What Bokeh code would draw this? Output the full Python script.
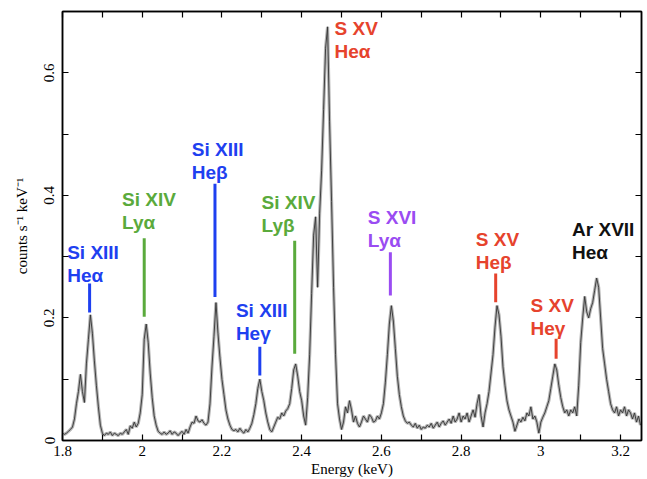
from bokeh.plotting import figure
from bokeh.models import Range1d, FixedTicker, LinearAxis, CustomJSTickFormatter
from bokeh.core.properties import value
from bokeh.embed import file_html
from bokeh.resources import INLINE

# ---------------- data ----------------
energy_start = 1.800   # keV, first bin
energy_step = 0.005    # keV, bin width

counts = [
    # 1.800 - 2.000
    0.012, 0.010, 0.012, 0.015, 0.018, 0.022, 0.035, 0.060, 0.080, 0.108,
    0.080, 0.062, 0.125, 0.165, 0.205, 0.175, 0.130, 0.090, 0.055, 0.025,
    0.012, 0.008, 0.012, 0.010, 0.014, 0.008, 0.012, 0.010, 0.008, 0.012,
    0.010, 0.014, 0.018, 0.010, 0.024, 0.020, 0.030, 0.022, 0.028, 0.045,
    0.075,
    # 2.005 - 2.200
    0.165, 0.190, 0.160, 0.110, 0.070, 0.040, 0.025, 0.015, 0.012, 0.010,
    0.014, 0.010, 0.012, 0.016, 0.010, 0.014, 0.012, 0.008, 0.012, 0.015,
    0.010, 0.018, 0.012, 0.022, 0.030, 0.028, 0.040, 0.032, 0.030, 0.034,
    0.028, 0.025, 0.030, 0.060, 0.120, 0.170, 0.225, 0.175, 0.135, 0.100,
    # 2.205 - 2.400
    0.075, 0.050, 0.035, 0.025, 0.018, 0.016, 0.018, 0.014, 0.020, 0.015,
    0.012, 0.018, 0.014, 0.020, 0.028, 0.042, 0.060, 0.085, 0.100, 0.080,
    0.065, 0.045, 0.030, 0.018, 0.014, 0.022, 0.030, 0.038, 0.035, 0.045,
    0.040, 0.048, 0.052, 0.060, 0.085, 0.115, 0.125, 0.105, 0.080, 0.065,
    # 2.405 - 2.500
    0.040, 0.025, 0.070, 0.140, 0.240, 0.335, 0.365, 0.250, 0.370, 0.440,
    0.540, 0.640, 0.675, 0.520, 0.390, 0.250, 0.140, 0.060, 0.035, 0.018,
    # 2.505 - 2.700
    0.030, 0.055, 0.045, 0.065, 0.050, 0.030, 0.040, 0.028, 0.022, 0.030,
    0.040, 0.035, 0.030, 0.042, 0.038, 0.030, 0.032, 0.040, 0.035, 0.045,
    0.060, 0.095, 0.140, 0.190, 0.220, 0.195, 0.150, 0.105, 0.075, 0.055,
    0.040, 0.032, 0.028, 0.030, 0.025, 0.022, 0.028, 0.020, 0.025, 0.018,
    # 2.705 - 2.900
    0.022, 0.020, 0.025, 0.022, 0.028, 0.020, 0.025, 0.030, 0.022, 0.028,
    0.032, 0.025, 0.030, 0.035, 0.028, 0.040, 0.030, 0.035, 0.045, 0.030,
    0.040, 0.035, 0.045, 0.030, 0.040, 0.050, 0.038, 0.060, 0.075, 0.040,
    0.022, 0.045, 0.060, 0.080, 0.110, 0.140, 0.185, 0.220, 0.205, 0.170,
    # 2.905 - 3.075
    0.120, 0.090, 0.065, 0.050, 0.040, 0.030, 0.015, 0.025, 0.035, 0.030,
    0.038, 0.032, 0.045, 0.040, 0.055, 0.035, 0.040, 0.030, 0.012, 0.030,
    0.038, 0.045, 0.055, 0.065, 0.085, 0.105, 0.125, 0.115, 0.090, 0.070,
    0.055, 0.045, 0.050, 0.040, 0.050,
    # 3.080 - 3.250
    0.045, 0.055, 0.040, 0.090, 0.160, 0.200, 0.235, 0.210, 0.200, 0.215,
    0.225, 0.245, 0.265, 0.250, 0.200, 0.150, 0.125, 0.100, 0.080, 0.060,
    0.050, 0.045, 0.055, 0.040, 0.050, 0.045, 0.055, 0.040, 0.050, 0.045,
    0.035, 0.045, 0.030, 0.040, 0.025,
]
energy = [round(energy_start + i * energy_step, 3) for i in range(len(counts))]

# line-identification markers
marker_energy = [1.868, 2.005, 2.1825, 2.3825, 2.295, 2.6225, 2.8867, 3.0383]
marker_bottom = [0.209, 0.202, 0.234, 0.1415, 0.106, 0.2366, 0.2256, 0.1333]
marker_top = [0.256, 0.330, 0.419, 0.326, 0.153, 0.307, 0.2725, 0.166]
marker_color = ["#1e40f0", "#5aaa3c", "#1e40f0", "#5aaa3c", "#1e40f0",
                "#9a4cf2", "#e6432d", "#e6432d"]

# labels (ion, transition)
label_ion = ["Si XIII", "Si XIV", "Si XIII", "Si XIV", "Si XIII",
             "S XV", "S XVI", "S XV", "S XV", "Ar XVII"]
label_trans = ["Heα", "Lyα", "Heβ", "Lyβ", "Heγ",
               "Heα", "Lyα", "Heβ", "Heγ", "Heα"]
label_x = [1.8117, 1.9492, 2.1242, 2.2992, 2.235,
           2.4825, 2.5658, 2.8367, 2.9742, 3.0783]
label_y1 = [0.307, 0.394, 0.475, 0.388, 0.212,
            0.673, 0.364, 0.328, 0.220, 0.345]
label_y2 = [0.269, 0.356, 0.437, 0.351, 0.174,
            0.635, 0.326, 0.290, 0.182, 0.307]
label_color = ["#1e40f0", "#5aaa3c", "#1e40f0", "#5aaa3c", "#1e40f0",
               "#e6432d", "#9a4cf2", "#e6432d", "#e6432d", "#111111"]

x_major = [1.8, 2.0, 2.2, 2.4, 2.6, 2.8, 3.0, 3.2]
x_minor = [1.9, 2.1, 2.3, 2.5, 2.7, 2.9, 3.1]
y_major = [0.0, 0.2, 0.4, 0.6]
y_minor = [0.1, 0.3, 0.5]

# ---------------- figure ----------------
p = figure(width=647, height=479, output_backend="svg", toolbar_location=None,
           x_range=Range1d(1.8, 3.2525), y_range=Range1d(0, 0.70),
           min_border_left=62, min_border_right=6, min_border_top=11,
           min_border_bottom=39)
p.grid.visible = False
p.outline_line_color = "black"
p.outline_line_width = 1.5
p.background_fill_color = "white"
p.border_fill_color = "white"

fmt_code = "return String(Math.round(tick*10)/10)"


def style_axis(ax, labels=True):
    ax.axis_line_color = "black"
    ax.axis_line_width = 1.5
    ax.major_tick_in = 6
    ax.major_tick_out = 0
    ax.minor_tick_in = 6
    ax.minor_tick_out = 0
    ax.major_tick_line_color = "black"
    ax.minor_tick_line_color = "black"
    ax.major_tick_line_width = 1.2
    ax.minor_tick_line_width = 1.2
    ax.major_label_text_font = "Liberation Serif"
    ax.major_label_text_font_size = "15px"
    ax.major_label_text_color = "black"
    ax.axis_label_text_font = "Liberation Serif"
    ax.axis_label_text_font_size = "15px"
    ax.axis_label_text_font_style = "normal"
    ax.axis_label_text_color = "black"
    if not labels:
        ax.formatter = CustomJSTickFormatter(code="return ''")
        ax.major_label_text_font_size = "1px"
        ax.major_label_standoff = 0


xa = p.xaxis[0]
xa.ticker = FixedTicker(ticks=x_major, minor_ticks=x_minor)
xa.formatter = CustomJSTickFormatter(code=fmt_code)
xa.axis_label = "Energy (keV)"
style_axis(xa)
xa.major_label_standoff = 5
xa.axis_label_standoff = 2

ya = p.yaxis[0]
ya.ticker = FixedTicker(ticks=y_major, minor_ticks=y_minor)
ya.formatter = CustomJSTickFormatter(code=fmt_code)
ya.axis_label = "counts s⁻¹ keV⁻¹"
ya.major_label_orientation = "vertical"
style_axis(ya)
ya.major_label_standoff = 8
ya.axis_label_standoff = 12

top_ax = LinearAxis(ticker=FixedTicker(ticks=x_major, minor_ticks=x_minor))
style_axis(top_ax, labels=False)
p.add_layout(top_ax, "above")
right_ax = LinearAxis(ticker=FixedTicker(ticks=y_major, minor_ticks=y_minor))
style_axis(right_ax, labels=False)
p.add_layout(right_ax, "right")

# spectrum: grey error envelope + dark line
p.line(energy, counts, line_color="#b4b4b4", line_width=3.2)
p.line(energy, counts, line_color="#333333", line_width=0.9)

# identification markers
p.segment(x0=marker_energy, y0=marker_bottom, x1=marker_energy, y1=marker_top,
          line_color=marker_color, line_width=3)

# labels
for ys, txt in ((label_y1, label_ion), (label_y2, label_trans)):
    p.text(x=label_x, y=ys, text=txt, text_color=label_color,
           text_font=value("Liberation Sans"), text_font_size="19px",
           text_font_style="bold", text_align="left", text_baseline="alphabetic")

open("out.html", "w").write(file_html(p, INLINE))
